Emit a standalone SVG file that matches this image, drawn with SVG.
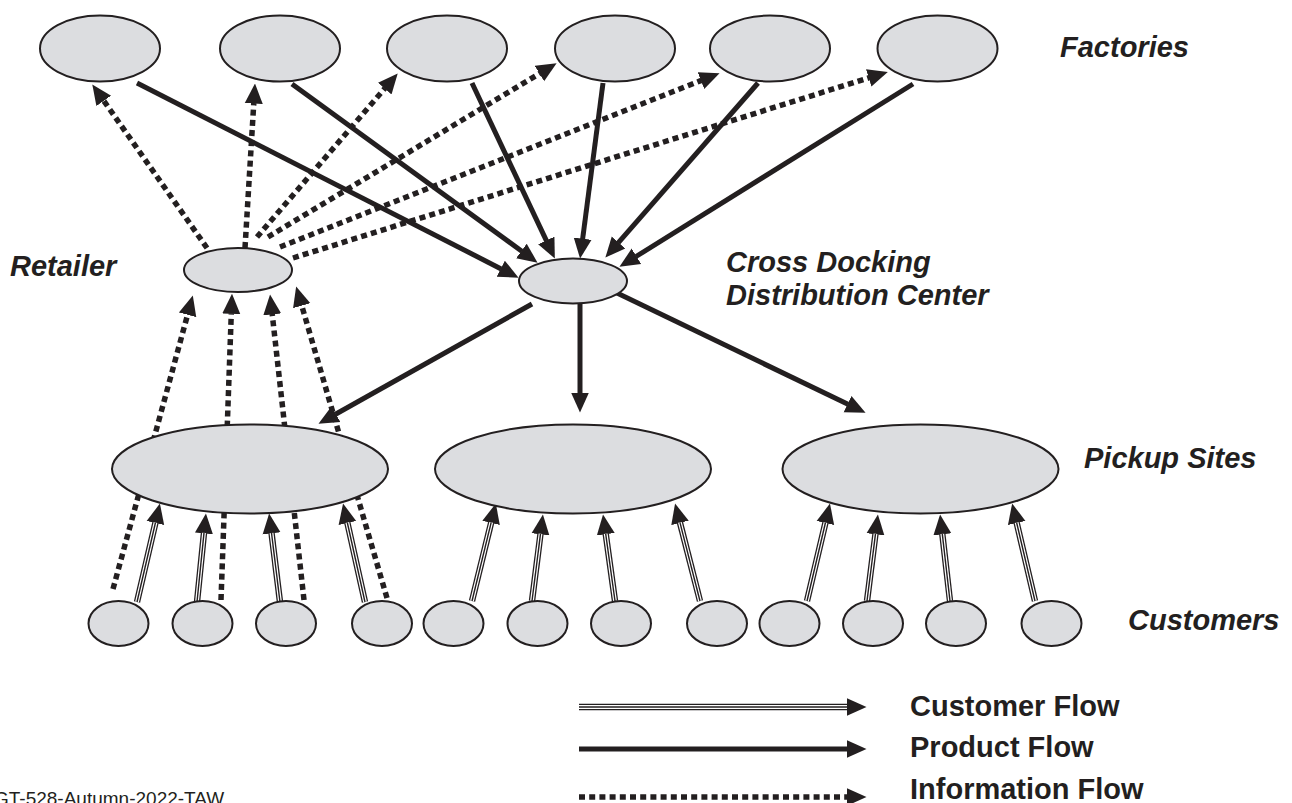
<svg xmlns="http://www.w3.org/2000/svg" width="1292" height="803" viewBox="0 0 1292 803">
<style>
.node{fill:#dcdde0;stroke:#231f20;stroke-width:2}
.prod{fill:none;stroke:#231f20;stroke-width:5}
.info{fill:none;stroke:#231f20;stroke-width:5.5;stroke-dasharray:6 4.2}
.c1{fill:none;stroke:#231f20;stroke-width:6.4}
.c2{fill:none;stroke:#fff;stroke-width:3.8}
.c3{fill:none;stroke:#231f20;stroke-width:1.4}
.lbl{font-family:"Liberation Sans",Arial,sans-serif;font-size:29px;font-weight:bold;font-style:italic;fill:#231f20}
.leg{font-family:"Liberation Sans",Arial,sans-serif;font-size:29px;font-weight:bold;fill:#231f20}
.foot{font-family:"Liberation Sans",Arial,sans-serif;font-size:19px;fill:#231f20}
</style>
<defs>
<marker id="ah" viewBox="0 0 20 20" refX="0.5" refY="10" markerWidth="20" markerHeight="20" markerUnits="userSpaceOnUse" orient="auto">
<path d="M0,1 L20,10 L0,19 z" fill="#231f20"/>
</marker>
</defs>
<rect width="1292" height="803" fill="#fff"/>

<g id="connectors">
<!-- product flows factories -> DC -->
<path class="prod" marker-end="url(#ah)" d="M137,83 L501.2,268.9"/>
<path class="prod" marker-end="url(#ah)" d="M292,84 L521.8,251.2"/>
<path class="prod" marker-end="url(#ah)" d="M472,83 L546.5,240.9"/>
<path class="prod" marker-end="url(#ah)" d="M603,83 L582.6,239.2"/>
<path class="prod" marker-end="url(#ah)" d="M758,83 L618.2,242.9"/>
<path class="prod" marker-end="url(#ah)" d="M913,84 L636,256.5"/>
<!-- product flows DC -> pickup -->
<path class="prod" marker-end="url(#ah)" d="M532,304 L335.5,414.3"/>
<path class="prod" marker-end="url(#ah)" d="M580,303 L580,393"/>
<path class="prod" marker-end="url(#ah)" d="M617,293 L848,404.3"/>
<!-- information flows retailer -> factories -->
<path class="info" marker-end="url(#ah)" d="M207,248 L103.5,100.4"/>
<path class="info" marker-end="url(#ah)" d="M245,248 L253.8,103"/>
<path class="info" marker-end="url(#ah)" d="M257,237 L385,88.2"/>
<path class="info" marker-end="url(#ah)" d="M268,237 L539.9,73.3"/>
<path class="info" marker-end="url(#ah)" d="M280,247 L701.4,80.4"/>
<path class="info" marker-end="url(#ah)" d="M293,258 L869.2,77.7"/>
<!-- information flows customers -> retailer -->
<path class="info" marker-end="url(#ah)" d="M113,589 L187.7,314.3"/>
<path class="info" marker-end="url(#ah)" d="M221,600 L231.3,313.3"/>
<path class="info" marker-end="url(#ah)" d="M304,600 L272.2,313.9"/>
<path class="info" marker-end="url(#ah)" d="M387,598 L301.6,305.2"/>
<!-- customer flows -->
<g id="cust-flows">
<path class="c1" marker-end="url(#ah)" d="M137,602 L155.5,522.5"/><path class="c2" d="M137,602 L155.5,522.5"/><path class="c3" d="M137,602 L155.5,522.5"/>
<path class="c1" marker-end="url(#ah)" d="M197,602 L204,532.9"/><path class="c2" d="M197,602 L204,532.9"/><path class="c3" d="M197,602 L204,532.9"/>
<path class="c1" marker-end="url(#ah)" d="M280,602 L271.5,532.9"/><path class="c2" d="M280,602 L271.5,532.9"/><path class="c3" d="M280,602 L271.5,532.9"/>
<path class="c1" marker-end="url(#ah)" d="M365,602 L347.3,522.5"/><path class="c2" d="M365,602 L347.3,522.5"/><path class="c3" d="M365,602 L347.3,522.5"/>

<path class="c1" marker-end="url(#ah)" d="M472,601 L491.2,522.4"/><path class="c2" d="M472,601 L491.2,522.4"/><path class="c3" d="M472,601 L491.2,522.4"/>
<path class="c1" marker-end="url(#ah)" d="M532,601 L540.5,533.8"/><path class="c2" d="M532,601 L540.5,533.8"/><path class="c3" d="M532,601 L540.5,533.8"/>
<path class="c1" marker-end="url(#ah)" d="M615,601 L605.7,533.8"/><path class="c2" d="M615,601 L605.7,533.8"/><path class="c3" d="M615,601 L605.7,533.8"/>
<path class="c1" marker-end="url(#ah)" d="M700,601 L679.9,522.4"/><path class="c2" d="M700,601 L679.9,522.4"/><path class="c3" d="M700,601 L679.9,522.4"/>

<path class="c1" marker-end="url(#ah)" d="M807,601 L825.5,522.5"/><path class="c2" d="M807,601 L825.5,522.5"/><path class="c3" d="M807,601 L825.5,522.5"/>
<path class="c1" marker-end="url(#ah)" d="M867,601 L875.5,533.8"/><path class="c2" d="M867,601 L875.5,533.8"/><path class="c3" d="M867,601 L875.5,533.8"/>
<path class="c1" marker-end="url(#ah)" d="M950,601 L942.3,533.9"/><path class="c2" d="M950,601 L942.3,533.9"/><path class="c3" d="M950,601 L942.3,533.9"/>
<path class="c1" marker-end="url(#ah)" d="M1035,601 L1016.6,522.5"/><path class="c2" d="M1035,601 L1016.6,522.5"/><path class="c3" d="M1035,601 L1016.6,522.5"/>
</g>
</g>

<g id="factories">
<ellipse id="factory1" class="node" cx="100" cy="48.5" rx="60" ry="33"/>
<ellipse id="factory2" class="node" cx="280" cy="48.5" rx="60" ry="33"/>
<ellipse id="factory3" class="node" cx="447" cy="48.5" rx="60" ry="33"/>
<ellipse id="factory4" class="node" cx="615" cy="48.5" rx="60" ry="33"/>
<ellipse id="factory5" class="node" cx="770" cy="48.5" rx="60" ry="33"/>
<ellipse id="factory6" class="node" cx="937.5" cy="48.5" rx="60" ry="33"/>
</g>
<g id="retailer"><ellipse class="node" cx="238" cy="270" rx="54" ry="22"/></g>
<g id="dc"><ellipse class="node" cx="573" cy="281" rx="54" ry="22.5"/></g>
<g id="pickups">
<ellipse id="pickup1" class="node" cx="250" cy="469" rx="138" ry="44.5"/>
<ellipse id="pickup2" class="node" cx="573" cy="469" rx="138" ry="44.5"/>
<ellipse id="pickup3" class="node" cx="920.5" cy="469" rx="138" ry="44.5"/>
</g>
<g id="customers">
<ellipse id="cust1" class="node" cx="118.5" cy="623.5" rx="30" ry="22.5"/>
<ellipse id="cust2" class="node" cx="202.5" cy="623.5" rx="30" ry="22.5"/>
<ellipse id="cust3" class="node" cx="286" cy="623.5" rx="30" ry="22.5"/>
<ellipse id="cust4" class="node" cx="382" cy="623.5" rx="30" ry="22.5"/>
<ellipse id="cust5" class="node" cx="453.5" cy="623.5" rx="30" ry="22.5"/>
<ellipse id="cust6" class="node" cx="537.5" cy="623.5" rx="30" ry="22.5"/>
<ellipse id="cust7" class="node" cx="621" cy="623.5" rx="30" ry="22.5"/>
<ellipse id="cust8" class="node" cx="717" cy="623.5" rx="30" ry="22.5"/>
<ellipse id="cust9" class="node" cx="789.5" cy="623.5" rx="30" ry="22.5"/>
<ellipse id="cust10" class="node" cx="873" cy="623.5" rx="30" ry="22.5"/>
<ellipse id="cust11" class="node" cx="956" cy="623.5" rx="30" ry="22.5"/>
<ellipse id="cust12" class="node" cx="1051.5" cy="623.5" rx="30" ry="22.5"/>
</g>

<g id="labels">
<text class="lbl" x="1060" y="57">Factories</text>
<text class="lbl" x="10" y="276">Retailer</text>
<text class="lbl" x="726" y="272">Cross Docking</text>
<text class="lbl" x="726" y="305">Distribution Center</text>
<text class="lbl" x="1084" y="468">Pickup Sites</text>
<text class="lbl" x="1128" y="630">Customers</text>
</g>

<g id="legend">
<path class="c1" marker-end="url(#ah)" d="M579,707 L847,707"/><path class="c2" d="M579,707 L847,707"/><path class="c3" d="M579,707 L847,707"/>
<path class="prod" marker-end="url(#ah)" d="M579,749 L847,749"/>
<path class="info" marker-end="url(#ah)" d="M579,797 L847,797"/>
<text class="leg" x="910" y="716">Customer Flow</text>
<text class="leg" x="910" y="757">Product Flow</text>
<text class="leg" x="910" y="799">Information Flow</text>
</g>
<text class="foot" x="-6" y="805">GT-528-Autumn-2022-TAW</text>
</svg>
